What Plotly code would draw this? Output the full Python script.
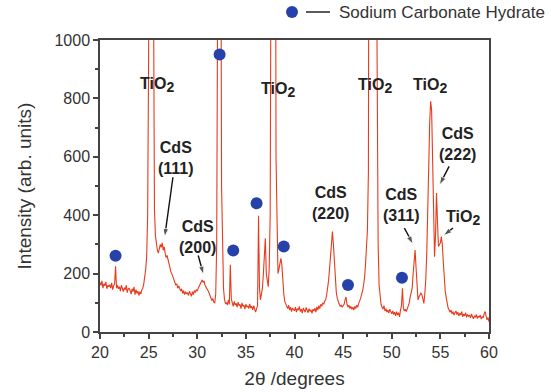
import numpy as np
import plotly.graph_objects as go

# 2-theta grid (0.1 degree steps) and intensities
two_theta = np.round(np.arange(20.0, 60.0001, 0.1), 1)
intensity = [
    170, 160, 175, 150, 165, 158, 172, 148, 160, 155,   # 20
    162, 150, 168, 145, 158, 165, 225, 150, 160, 148,   # 21
    155, 140, 160, 150, 138, 152, 145, 160, 135, 148,   # 22
    150, 142, 130, 148, 138, 155, 128, 145, 132, 140,   # 23
    125, 138, 130, 145, 150, 165, 185, 215, 260, 400,   # 24
    950, 4000, 8000, 6000, 3000, 1200, 420, 330, 295, 280,  # 25
    270, 285, 300, 290, 305, 280, 292, 270, 255, 262,   # 26
    245, 230, 222, 205, 198, 190, 178, 172, 160, 165,   # 27
    150, 158, 145, 140, 148, 132, 142, 128, 138, 130,   # 28
    135, 125, 140, 130, 122, 138, 128, 142, 135, 145,   # 29
    140, 150, 158, 165, 172, 178, 170, 175, 160, 155,   # 30
    150, 142, 135, 128, 120, 108, 115, 102, 100, 130,   # 31
    300, 1200, 6000, 5000, 1800, 500, 230, 150, 112, 98,  # 32
    100, 92, 110, 95, 230, 115, 100, 88, 105, 92,       # 33
    98, 85, 102, 90, 95, 80, 100, 88, 92, 78,           # 34
    95, 85, 90, 80, 96, 82, 88, 76, 90, 72,             # 35
    68, 80, 90, 398, 150, 110, 125, 150, 200, 260,      # 36
    321, 200, 165, 155, 220, 400, 1500, 6000, 8000, 6000,  # 37
    2500, 600, 280, 200, 215, 240, 252, 230, 170, 130,  # 38
    105, 95, 88, 80, 92, 75, 85, 70, 82, 78,            # 39
    72, 85, 68, 80, 75, 88, 70, 78, 65, 82,             # 40
    75, 68, 84, 72, 66, 80, 70, 76, 64, 78,             # 41
    72, 82, 68, 86, 75, 90, 80, 95, 88, 100,            # 42
    95, 105, 110, 125, 145, 175, 215, 270, 315, 344,    # 43
    300, 230, 170, 135, 115, 100, 95, 88, 92, 85,       # 44
    90, 95, 110, 120, 95, 85, 92, 80, 88, 78,           # 45
    85, 75, 88, 80, 92, 85, 98, 105, 115, 130,          # 46
    140, 160, 185, 230, 280, 350, 550, 2000, 6000, 9000,  # 47
    9000, 7000, 5000, 3000, 1500, 700, 300, 160, 110, 95,  # 48
    85, 78, 90, 72, 80, 68, 75, 65, 78, 70,             # 49
    62, 72, 60, 68, 55, 70, 58, 66, 52, 75,             # 50
    90, 150, 80, 72, 78, 70, 80, 85, 100, 120,          # 51
    135, 150, 200, 250, 281, 220, 150, 110, 120, 128,   # 52
    133, 128, 105, 98, 130, 180, 270, 380, 560, 717,    # 53
    790, 760, 560, 350, 258, 330, 476, 380, 293, 300,   # 54
    305, 327, 300, 240, 180, 140, 118, 95, 82, 75,      # 55
    68, 75, 62, 70, 58, 66, 72, 60, 68, 55,             # 56
    64, 58, 70, 52, 62, 55, 66, 50, 60, 54,             # 57
    58, 48, 62, 52, 45, 56, 50, 60, 46, 55,             # 58
    50, 58, 44, 52, 48, 62, 70, 55, 42, 50,             # 59
    35,                                                 # 60
]

# Sodium carbonate hydrate markers
nch_theta = [21.6, 32.3, 33.7, 36.1, 38.9, 45.5, 51.05]
nch_int = [261, 950, 279, 441, 293, 161, 186]

# Peak labels
SUB2 = "TiO<sub><span style='font-size:14px'>2</span></sub>"
label_text = [SUB2, SUB2, SUB2, SUB2,
              "CdS<br>(111)", "CdS<br>(200)", "CdS<br>(220)", "CdS<br>(311)",
              "CdS<br>(222)", SUB2]
label_x = [25.9, 38.3, 48.3, 53.9, 27.8, 30.05, 43.75, 51.0, 56.8, 57.3]
label_y = [845, 830, 842, 842, 597, 325, 442, 434, 645, 390]

# Arrows: tail -> head
arrow_tail_x = [27.5, 30.1, 51.3, 55.9, 56.3]
arrow_tail_y = [530, 262, 356, 567, 356]
arrow_head_x = [26.65, 30.65, 52.2, 54.9, 55.3]
arrow_head_y = [325, 196, 300, 503, 330]

legend_label = "Sodium Carbonate Hydrate"

red = "rgb(232,58,28)"
blue = "rgb(38,66,170)"
grey = "#444444"

fig = go.Figure()
fig.add_trace(go.Scatter(x=two_theta, y=intensity, mode="lines",
                         line=dict(color=red, width=1.1), showlegend=False,
                         cliponaxis=True))
fig.add_trace(go.Scatter(x=nch_theta, y=nch_int, mode="markers",
                         marker=dict(color=blue, size=12), showlegend=False))

for tx, ty, hx, hy in zip(arrow_tail_x, arrow_tail_y, arrow_head_x, arrow_head_y):
    fig.add_trace(go.Scatter(x=[tx, hx], y=[ty, hy], mode="lines+markers",
                             line=dict(color="#111111", width=1.4),
                             marker=dict(symbol="arrow", size=[0, 9], angleref="previous",
                                         color="#111111"),
                             showlegend=False))

for t, x, y in zip(label_text, label_x, label_y):
    fig.add_annotation(x=x, y=y, text="<b>" + t + "</b>", showarrow=False,
                       font=dict(family="Arial", size=16, color="#222222"))

# legend (dot, dash, text) above the plot
fig.add_shape(type="circle", xref="paper", yref="paper", xsizemode="pixel", ysizemode="pixel",
              xanchor=(292 - 100) / 389, yanchor=(332 - 12) / 292,
              x0=-6, x1=6, y0=-6, y1=6, fillcolor=blue, line=dict(width=0))
fig.add_shape(type="line", xref="paper", yref="paper",
              x0=(306 - 100) / 389, x1=(330 - 100) / 389,
              y0=(332 - 12) / 292, y1=(332 - 12) / 292,
              line=dict(color="#333333", width=1.6))
fig.add_annotation(xref="paper", yref="paper", x=(337 - 100) / 389, y=(332 - 12) / 292,
                   xanchor="left", yanchor="middle", showarrow=False, text=legend_label,
                   font=dict(family="Arial", size=17, color="#333333"))

axis_common = dict(showline=True, linecolor=grey, linewidth=1.5, mirror=True,
                   ticks="outside", ticklen=5, tickwidth=1.5, tickcolor=grey,
                   showgrid=False, zeroline=False, automargin=False,
                   tickfont=dict(family="Arial", size=16, color="#333333"))

fig.update_xaxes(range=[20, 60], tickvals=[20, 25, 30, 35, 40, 45, 50, 55, 60],
                 minor=dict(dtick=2.5, tick0=22.5, ticks="outside", ticklen=3,
                            tickcolor=grey, tickwidth=1.5),
                 title=dict(text="2θ /degrees", font=dict(family="Arial", size=19, color="#333333"),
                            standoff=12),
                 **axis_common)
fig.update_yaxes(range=[0, 1000], tickvals=[0, 200, 400, 600, 800, 1000],
                 minor=dict(dtick=100, tick0=100, ticks="outside", ticklen=3,
                            tickcolor=grey, tickwidth=1.5),
                 title=dict(text="Intensity (arb. units)", font=dict(family="Arial", size=19, color="#333333"),
                            standoff=18),
                 **axis_common)

fig.update_layout(width=551, height=392, margin=dict(l=100, r=62, t=40, b=60),
                  plot_bgcolor="white", paper_bgcolor="white")

fig.write_html("out.html")
